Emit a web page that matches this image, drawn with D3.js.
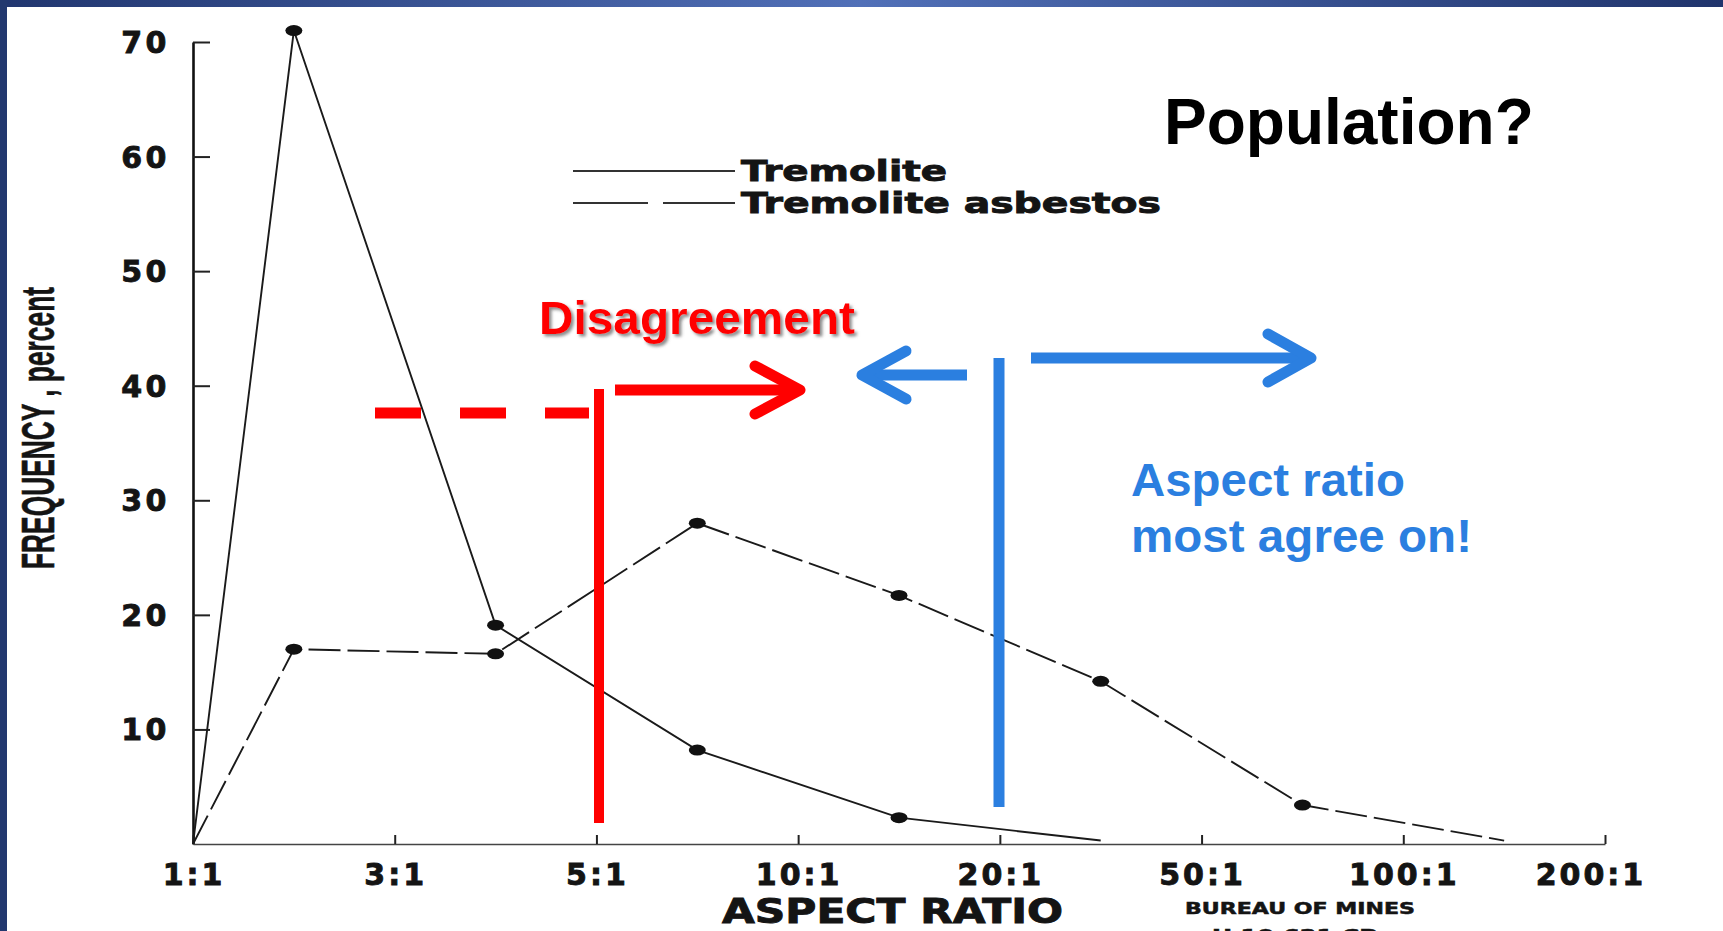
<!DOCTYPE html>
<html>
<head>
<meta charset="utf-8">
<script src="https://cdn.jsdelivr.net/npm/d3@7"></script>
<style>
  html, body { margin: 0; padding: 0; background: #fff; overflow: hidden; }
  svg { display: block; }
  .scan { font-family: "DejaVu Sans", sans-serif; font-weight: bold; fill: #141414; stroke: #141414; stroke-width: 0.9px; }
  .note { font-family: "Liberation Sans", Arial, sans-serif; font-weight: bold; }
</style>
</head>
<body>
<div id="chart"></div>
<script>
const ratioLabels = ["1:1", "3:1", "5:1", "10:1", "20:1", "50:1", "100:1", "200:1"];
const yTicks = [10, 20, 30, 40, 50, 60, 70];
// frequency (%) per aspect ratio bin, each plotted midway between two labels
const bins = ["1-3", "3-5", "5-10", "10-20", "20-50", "50-100", "100-200"];
const tremolite = [71, 19.1, 8.2, 2.3, 0.3, null, null];
const tremoliteAsbestos = [17, 16.6, 28, 21.7, 14.2, 3.4, 0.3];
const originValue = 0; // both curves start from 0 at 1:1

const legendItems = ["Tremolite", "Tremolite asbestos"];

const W = 1723, H = 931;
const svg = d3.select("#chart").append("svg")
    .attr("width", W)
    .attr("height", H);

const defs = svg.append("defs");
const grad = defs.append("linearGradient").attr("id", "topbar");
grad.append("stop").attr("offset", "0%").attr("stop-color", "#21366f");
grad.append("stop").attr("offset", "50%").attr("stop-color", "#5170b8");
grad.append("stop").attr("offset", "100%").attr("stop-color", "#20346c");

const shadow = defs.append("filter").attr("id", "shadow")
    .attr("x", "-5%").attr("y", "-20%").attr("width", "115%").attr("height", "150%");
shadow.append("feDropShadow")
    .attr("dx", 2.5).attr("dy", 2.5).attr("stdDeviation", 1.5)
    .attr("flood-color", "#666").attr("flood-opacity", 0.75);

// slide frame
svg.append("rect").attr("x", 0).attr("y", 0).attr("width", W).attr("height", 7).attr("fill", "url(#topbar)");
svg.append("rect").attr("x", 0).attr("y", 0).attr("width", 7).attr("height", H).attr("fill", "#22386f");

// scales
const x = d3.scalePoint().domain(ratioLabels).range([193, 1605]);
const y = d3.scaleLinear().domain([0, 70]).range([844, 42]);
const binX = i => (x(ratioLabels[i]) + x(ratioLabels[i + 1])) / 2;

// axes
const yAxis = svg.append("g")
    .attr("transform", `translate(${x(ratioLabels[0])},0)`)
    .call(d3.axisRight(y).tickValues(yTicks).tickSize(17).tickSizeOuter(0).tickFormat(""));
yAxis.select(".domain").attr("stroke", "#111").attr("stroke-width", 2.6);
yAxis.selectAll(".tick line").attr("stroke", "#222").attr("stroke-width", 2);

const xAxis = svg.append("g")
    .attr("transform", `translate(0,${y(0)})`)
    .call(d3.axisTop(x).tickSize(9).tickSizeOuter(0).tickFormat(""));
xAxis.select(".domain").attr("stroke", "#444").attr("stroke-width", 1.6);
xAxis.selectAll(".tick line").attr("stroke", "#222").attr("stroke-width", 2);

svg.selectAll(".ylab")
    .data(yTicks)
    .enter()
    .append("text")
    .attr("class", "scan")
    .attr("x", 170)
    .attr("y", d => y(d) + 11)
    .attr("text-anchor", "end")
    .style("font-size", "30px")
    .style("letter-spacing", "3.5px")
    .text(d => d);

// the last label sits a little left of its tick in the scan
const lastLabel = ratioLabels[ratioLabels.length - 1];
svg.selectAll(".xlab")
    .data(ratioLabels)
    .enter()
    .append("text")
    .attr("class", "scan")
    .attr("x", d => x(d) + (d === lastLabel ? -14 : 1))
    .attr("y", 885)
    .attr("text-anchor", "middle")
    .style("font-size", "30px")
    .style("letter-spacing", "3px")
    .text(d => d);

svg.append("text")
    .attr("class", "scan")
    .attr("x", 722).attr("y", 923)
    .attr("textLength", 341).attr("lengthAdjust", "spacingAndGlyphs")
    .style("font-size", "34px")
    .text("ASPECT RATIO");

svg.append("text")
    .attr("class", "scan")
    .attr("x", 1185).attr("y", 914)
    .attr("textLength", 230).attr("lengthAdjust", "spacingAndGlyphs")
    .style("font-size", "15px")
    .style("stroke-width", "0.5px")
    .text("BUREAU  OF  MINES");

// second imprint line, cut by the bottom edge as in the scan
svg.append("text")
    .attr("class", "scan")
    .attr("x", 1212).attr("y", 941)
    .attr("textLength", 165).attr("lengthAdjust", "spacingAndGlyphs")
    .style("font-size", "15px")
    .style("stroke-width", "0.5px")
    .text("H  10,621  CP");

svg.append("text")
    .attr("class", "note")
    .attr("transform", "translate(54,428) rotate(-90)")
    .attr("text-anchor", "middle")
    .attr("textLength", 282).attr("lengthAdjust", "spacingAndGlyphs")
    .style("font-size", "46px")
    .style("fill", "#141414")
    .style("stroke", "#141414")
    .style("stroke-width", "0.6px")
    .text("FREQUENCY , percent");

// series
function toPoints(values) {
    const pts = [{ px: x(ratioLabels[0]), v: originValue }];
    values.forEach((v, i) => { if (v !== null) pts.push({ px: binX(i), v: v }); });
    return pts;
}

const series = [
    { name: legendItems[0], pts: toPoints(tremolite), dash: null },
    { name: legendItems[1], pts: toPoints(tremoliteAsbestos), dash: "32,7" }
];

const line = d3.line().x(d => d.px).y(d => y(d.v));

svg.selectAll(".series")
    .data(series)
    .enter()
    .append("path")
    .attr("d", d => line(d.pts))
    .attr("fill", "none")
    .attr("stroke", "#1a1a1a")
    .attr("stroke-width", 1.9)
    .attr("stroke-dasharray", d => d.dash);

series.forEach(s => {
    svg.selectAll(null)
        .data(s.pts.filter(p => p.v > 1))
        .enter()
        .append("ellipse")
        .attr("cx", d => d.px)
        .attr("cy", d => y(d.v))
        .attr("rx", 8.5)
        .attr("ry", 5.5)
        .attr("fill", "#111");
});

// legend
const legend = svg.append("g").attr("transform", "translate(573,171)");
legendItems.forEach((name, i) => {
    const row = legend.append("g").attr("transform", `translate(0,${i * 32})`);
    row.append("line")
        .attr("x1", 0).attr("x2", 162)
        .attr("stroke", "#333").attr("stroke-width", 1.8)
        .attr("stroke-dasharray", series[i].dash ? "75,15" : null);
    row.append("text")
        .attr("class", "scan")
        .attr("x", 168).attr("y", 10)
        .attr("textLength", i === 0 ? 206 : 420).attr("lengthAdjust", "spacingAndGlyphs")
        .style("font-size", "28px")
        .text(name);
});

// annotations
const red = "#ff0000", blue = "#2b7fe0";

function arrow(color, x1, x2, yy, head) {
    svg.append("line")
        .attr("x1", x1).attr("x2", x2).attr("y1", yy).attr("y2", yy)
        .attr("stroke", color).attr("stroke-width", 11);
    const dir = x2 > x1 ? -1 : 1;
    svg.append("path")
        .attr("d", `M${x2 + dir * head},${yy - 24}L${x2},${yy}L${x2 + dir * head},${yy + 24}`)
        .attr("fill", "none")
        .attr("stroke", color).attr("stroke-width", 11)
        .attr("stroke-linecap", "round").attr("stroke-linejoin", "round");
}

svg.append("line")
    .attr("x1", 375).attr("x2", 589).attr("y1", 413).attr("y2", 413)
    .attr("stroke", red).attr("stroke-width", 11).attr("stroke-dasharray", "46,39");
svg.append("line")
    .attr("x1", 599).attr("x2", 599).attr("y1", 389).attr("y2", 823)
    .attr("stroke", red).attr("stroke-width", 10);
arrow(red, 615, 800, 390, 45);

arrow(blue, 967, 862, 375, 44);
svg.append("line")
    .attr("x1", 999).attr("x2", 999).attr("y1", 358).attr("y2", 807)
    .attr("stroke", blue).attr("stroke-width", 11);
arrow(blue, 1031, 1311, 358, 43);

svg.append("text")
    .attr("class", "note")
    .attr("x", 539).attr("y", 334)
    .attr("textLength", 316).attr("lengthAdjust", "spacingAndGlyphs")
    .attr("filter", "url(#shadow)")
    .style("font-size", "46px")
    .style("fill", red)
    .text("Disagreement");

svg.append("text")
    .attr("class", "note")
    .attr("x", 1164).attr("y", 144)
    .style("font-size", "64px")
    .style("fill", "#000")
    .text("Population?");

svg.append("text")
    .attr("class", "note")
    .attr("x", 1131).attr("y", 496)
    .attr("textLength", 274).attr("lengthAdjust", "spacingAndGlyphs")
    .style("font-size", "47px")
    .style("fill", blue)
    .text("Aspect ratio");

svg.append("text")
    .attr("class", "note")
    .attr("x", 1131).attr("y", 552)
    .attr("textLength", 341).attr("lengthAdjust", "spacingAndGlyphs")
    .style("font-size", "47px")
    .style("fill", blue)
    .text("most agree on!");
</script>
</body>
</html>
